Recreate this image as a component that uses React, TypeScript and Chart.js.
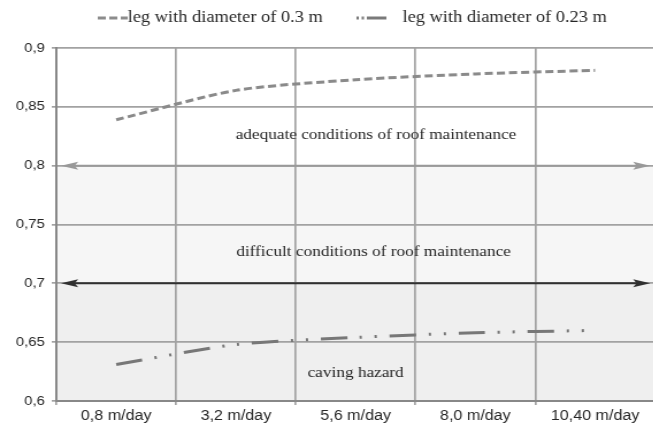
import React, { useEffect, useRef } from 'react';
import { Chart, registerables } from 'chart.js';

Chart.register(...registerables);

// ---- data ----
const categories = ['0,8 m/day', '3,2 m/day', '5,6 m/day', '8,0 m/day', '10,40 m/day'];
const leg030 = [0.839, 0.864, 0.873, 0.878, 0.881];
const leg023 = [0.631, 0.648, 0.654, 0.658, 0.66];
const seriesLabels = ['leg with diameter of 0.3 m', 'leg with diameter of 0.23 m'];
const yTickValues = [0.6, 0.65, 0.7, 0.75, 0.8, 0.85, 0.9];
const zoneLimits = [0.6, 0.7, 0.8, 0.9];
const zoneLabels = [
  'caving hazard',
  'difficult conditions of roof maintenance',
  'adequate conditions of roof maintenance',
];
const zoneLabelValues = [0.624, 0.7266, 0.826];
const zoneLabelIndex = [2.0, 2.15, 2.17];
const boundaryValues = [0.7, 0.8];

// ---- styles ----
const STRETCH = 1.15;
const INNER_W = 571;
const H = 430;
const zoneColors = ['#efefef', '#f6f6f6', '#ffffff'];
const boundaryColors = ['#303030', '#999999'];
const textColor = '#262626';
const gridColor = '#a2a2a2';
const serif = '"Liberation Serif", "Times New Roman", serif';
const sans = '"Liberation Sans", Arial, sans-serif';

function drawArrow(ctx: CanvasRenderingContext2D, x1: number, x2: number, y: number, color: string) {
  const hl = 15;
  const hw = 4;
  ctx.save();
  ctx.strokeStyle = color;
  ctx.fillStyle = color;
  ctx.lineWidth = 2;
  ctx.setLineDash([]);
  ctx.beginPath();
  ctx.moveTo(x1 + hl * 0.5, y);
  ctx.lineTo(x2 - hl * 0.5, y);
  ctx.stroke();
  ctx.beginPath();
  ctx.moveTo(x1, y);
  ctx.lineTo(x1 + hl, y - hw);
  ctx.lineTo(x1 + hl * 0.8, y);
  ctx.lineTo(x1 + hl, y + hw);
  ctx.closePath();
  ctx.fill();
  ctx.beginPath();
  ctx.moveTo(x2, y);
  ctx.lineTo(x2 - hl, y - hw);
  ctx.lineTo(x2 - hl * 0.8, y);
  ctx.lineTo(x2 - hl, y + hw);
  ctx.closePath();
  ctx.fill();
  ctx.restore();
}

const zonesPlugin = {
  id: 'zones',
  beforeDraw(chart: any) {
    const { ctx, chartArea } = chart;
    const y = chart.scales.y;
    ctx.save();
    for (let i = 0; i < zoneLimits.length - 1; i++) {
      const top = y.getPixelForValue(zoneLimits[i + 1]);
      const bot = y.getPixelForValue(zoneLimits[i]);
      ctx.fillStyle = zoneColors[i];
      ctx.fillRect(chartArea.left, top, chartArea.right - chartArea.left, bot - top);
    }
    ctx.restore();
  },
  afterDatasetsDraw(chart: any) {
    const { ctx, chartArea } = chart;
    const y = chart.scales.y;
    boundaryValues.forEach((v, i) => {
      drawArrow(ctx, chartArea.left + 4, chartArea.right - 4, y.getPixelForValue(v), boundaryColors[i]);
    });
  },
  afterDraw(chart: any) {
    const { ctx } = chart;
    const x = chart.scales.x;
    const y = chart.scales.y;
    ctx.save();
    ctx.fillStyle = textColor;
    ctx.font = '15px ' + serif;
    ctx.textAlign = 'center';
    ctx.textBaseline = 'middle';
    zoneLabels.forEach((t, i) => {
      ctx.fillText(t, x.getPixelForValue(zoneLabelIndex[i]), y.getPixelForValue(zoneLabelValues[i]));
    });

    // legend
    const ly = 18;
    ctx.lineWidth = 3;
    ctx.strokeStyle = '#8c8c8c';
    ctx.setLineDash([7, 3]);
    ctx.beginPath();
    ctx.moveTo(85, ly);
    ctx.lineTo(111, ly);
    ctx.stroke();
    ctx.strokeStyle = '#7a7a7a';
    ctx.setLineDash([2, 2.5, 2, 2.5, 40]);
    ctx.beginPath();
    ctx.moveTo(310, ly);
    ctx.lineTo(336, ly);
    ctx.stroke();
    ctx.setLineDash([]);
    ctx.font = '16px ' + serif;
    ctx.textAlign = 'left';
    ctx.fillText(seriesLabels[0], 111, ly);
    ctx.fillText(seriesLabels[1], 350, ly);
    ctx.restore();
  },
};

function fmt(v: number) {
  return String(Math.round(v * 100) / 100).replace('.', ',');
}

export default function App() {
  const ref = useRef<HTMLCanvasElement | null>(null);
  useEffect(() => {
    document.body.style.margin = '0';
    if (!ref.current) return;
    const chart = new Chart(ref.current, {
      type: 'line',
      data: {
        labels: categories,
        datasets: [
          {
            label: seriesLabels[0],
            data: leg030,
            borderColor: '#8a8a8a',
            borderWidth: 3,
            borderDash: [7, 3.5],
            pointRadius: 0,
            tension: 0.25,
            fill: false,
          },
          {
            label: seriesLabels[1],
            data: leg023,
            borderColor: '#777777',
            borderWidth: 3,
            borderDash: [23, 11, 2, 11, 2, 11],
            pointRadius: 0,
            tension: 0.25,
            fill: false,
          },
        ],
      },
      options: {
        responsive: true,
        maintainAspectRatio: false,
        animation: false,
        layout: { padding: { top: 48, right: 0, left: 0, bottom: 0 } },
        plugins: {
          legend: { display: false },
          tooltip: { enabled: false },
        },
        scales: {
          x: {
            type: 'category',
            offset: true,
            grid: { offset: true, color: gridColor, lineWidth: 1.7, tickLength: 4 },
            border: { color: '#888888', width: 2 },
            ticks: { color: textColor, font: { family: sans, size: 14 }, padding: 3, maxRotation: 0 },
            afterFit(s: any) {
              s.height = 29;
            },
          },
          y: {
            min: 0.6,
            max: 0.9,
            grid: { color: gridColor, lineWidth: 1.7, tickLength: 4 },
            border: { color: '#888888', width: 2 },
            ticks: {
              color: textColor,
              font: { family: sans, size: 13 },
              padding: 6,
              callback: (v: any) => fmt(Number(v)),
            },
            afterBuildTicks(s: any) {
              s.ticks = yTickValues.map((v) => ({ value: v }));
            },
            afterFit(s: any) {
              s.width = 49;
            },
          },
        },
      },
      plugins: [zonesPlugin],
    });
    return () => chart.destroy();
  }, []);

  return (
    <div style={{ width: 653, height: H, overflow: 'hidden', position: 'relative', background: '#fff' }}>
      <div
        style={{
          width: INNER_W,
          height: H,
          transform: `scaleX(${STRETCH})`,
          transformOrigin: '0 0',
          position: 'absolute',
          left: 0,
          top: 0,
        }}
      >
        <canvas ref={ref} />
      </div>
    </div>
  );
}
